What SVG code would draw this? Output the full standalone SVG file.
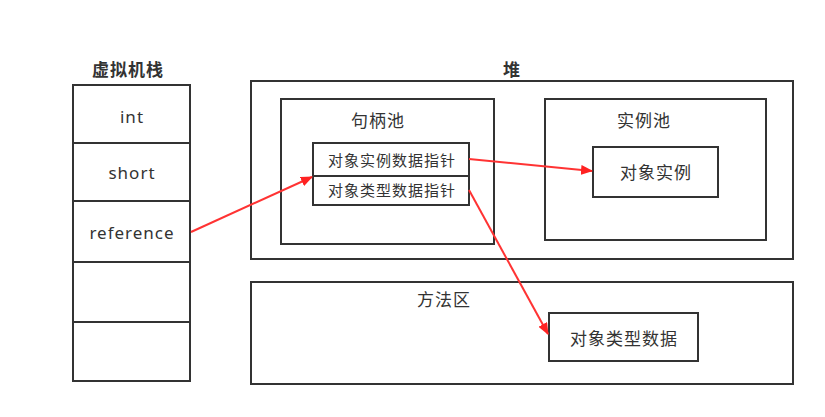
<svg xmlns="http://www.w3.org/2000/svg" width="825" height="417" viewBox="0 0 825 417">
<style>
.box{fill:#fff;stroke:#333;stroke-width:2}
.t{font-family:"Noto Sans","Noto Sans CJK SC",sans-serif;font-size:17px;letter-spacing:1px;fill:#333;text-anchor:middle;dominant-baseline:central}
.b{font-weight:bold}
.s{font-size:15px}
.c{stroke:#ff3333;stroke-width:2;fill:none;marker-end:url(#ah)}
</style>
<defs>
<marker id="ah" viewBox="0 0 12 10" refX="11" refY="5" markerWidth="12" markerHeight="10" markerUnits="userSpaceOnUse" orient="auto">
<path d="M0,0 L12,5 L0,10 z" fill="#ff2222"/>
</marker>
</defs>
<rect width="825" height="417" fill="#fff"/>
<g id="stack">
<text class="t b" x="128" y="69">虚拟机栈</text>
<rect class="box" x="73" y="85" width="117" height="296"/>
<line x1="73" y1="143" x2="190" y2="143" stroke="#333" stroke-width="2"/>
<line x1="73" y1="201" x2="190" y2="201" stroke="#333" stroke-width="2"/>
<line x1="73" y1="262" x2="190" y2="262" stroke="#333" stroke-width="2"/>
<line x1="73" y1="322" x2="190" y2="322" stroke="#333" stroke-width="2"/>
<text class="t" x="132" y="116">int</text>
<text class="t" x="132" y="172">short</text>
<text class="t" x="132" y="232">reference</text>
</g>
<g id="heap">
<text class="t b" x="512" y="69">堆</text>
<rect class="box" x="251" y="81" width="542" height="178"/>
</g>
<g id="handle-pool">
<rect class="box" x="281" y="99" width="213" height="145"/>
<text class="t" x="378" y="120">句柄池</text>
</g>
<g id="instance-ptr">
<rect class="box" x="313" y="143" width="156" height="33"/>
<text class="t s" x="392" y="160">对象实例数据指针</text>
</g>
<g id="type-ptr">
<rect class="box" x="313" y="176" width="156" height="29"/>
<text class="t s" x="392" y="190">对象类型数据指针</text>
</g>
<g id="instance-pool">
<rect class="box" x="545" y="99" width="221" height="141"/>
<text class="t" x="644" y="120">实例池</text>
</g>
<g id="object-instance">
<rect class="box" x="593" y="147" width="125" height="50"/>
<text class="t" x="656" y="172">对象实例</text>
</g>
<g id="method-area">
<rect class="box" x="251" y="282" width="542" height="102"/>
<text class="t" x="444" y="299">方法区</text>
</g>
<g id="type-data">
<rect class="box" x="549" y="313" width="149" height="48"/>
<text class="t" x="624" y="338">对象类型数据</text>
</g>
<g id="connectors">
<line class="c" x1="191" y1="232" x2="312" y2="177"/>
<line class="c" x1="469" y1="159" x2="592" y2="171"/>
<line class="c" x1="469" y1="190" x2="548" y2="334"/>
</g>
</svg>
